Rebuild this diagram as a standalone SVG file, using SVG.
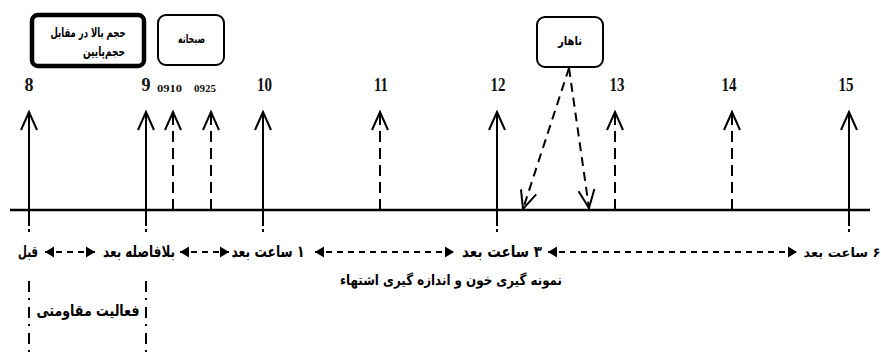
<svg xmlns="http://www.w3.org/2000/svg" width="881" height="358" viewBox="0 0 881 358">
  <defs>
    <style>
      .num { font-family: "Liberation Serif", "Times New Roman", serif; font-weight: bold; font-size: 18px; fill: #111; text-anchor: middle; }
      .small { font-size: 10px; }
      .ar { font-family: "DejaVu Sans", "Noto Sans", sans-serif; font-weight: bold; fill: #000; text-anchor: middle; direction: rtl; }
      .box { fill: #fff; stroke: #000; stroke-width: 2; }
      .thick { stroke-width: 4.5; }
      .tick { fill: none; stroke: #000; stroke-width: 2; marker-end: url(#chev); }
      .dash { stroke-dasharray: 11 6; }
      .lunch { fill: none; stroke: #000; stroke-width: 2; stroke-dasharray: 9 6; marker-end: url(#chev); }
      .dbl { fill: none; stroke: #000; stroke-width: 2; stroke-dasharray: 6 5; marker-start: url(#tri); marker-end: url(#tri); }
      .ext { fill: none; stroke: #000; stroke-width: 2; }
      .dashdot { fill: none; stroke: #000; stroke-width: 2; stroke-dasharray: 11 6 2 7; }
    </style>
    <!-- open chevron arrowhead -->
    <marker id="chev" markerUnits="userSpaceOnUse" orient="auto-start-reverse" overflow="visible" markerWidth="20" markerHeight="20" refX="0" refY="0">
      <path d="M-18,-8 L0,0 L-18,8" fill="none" stroke="#000" stroke-width="2" stroke-linejoin="miter"/>
    </marker>
    <!-- solid triangle head for the phase arrows -->
    <marker id="tri" markerUnits="userSpaceOnUse" orient="auto-start-reverse" overflow="visible" markerWidth="12" markerHeight="12" refX="0" refY="0">
      <path d="M-9,-5.5 L0,0 L-9,5.5 Z" fill="#000"/>
    </marker>
  </defs>

  <rect width="881" height="358" fill="#fff"/>

  <!-- top boxes -->
  <g id="box-volume">
    <rect class="box thick" x="32" y="15" width="112" height="51" rx="6"/>
    <text class="ar" x="88" y="37" font-size="13" textLength="75" lengthAdjust="spacingAndGlyphs">حجم بالا در مقابل</text>
    <text class="ar" x="104" y="56" font-size="13" textLength="42" lengthAdjust="spacingAndGlyphs">حجم‌پایین</text>
  </g>
  <g id="box-breakfast">
    <rect class="box" x="158" y="15" width="66" height="50" rx="8"/>
    <text class="ar" x="191.5" y="43" font-size="12" textLength="27" lengthAdjust="spacingAndGlyphs">صبحانه</text>
  </g>
  <g id="box-lunch">
    <rect class="box" x="537" y="17" width="66" height="50" rx="8"/>
    <text class="ar" x="570" y="45" font-size="12" textLength="24" lengthAdjust="spacingAndGlyphs">ناهار</text>
  </g>

  <!-- time axis -->
  <g id="axis">
    <line x1="10" y1="210" x2="870" y2="210" stroke="#000" stroke-width="2.5"/>
  </g>

  <!-- hour marks -->
  <g id="tick-8">
    <text class="num" x="29" y="91">8</text>
    <path class="tick" d="M29,226 V112"/>
    <line class="ext" x1="29" y1="229" x2="29" y2="232"/>
    <path class="dashdot" d="M29,281 V358"/>
  </g>
  <g id="tick-9">
    <text class="num" x="146" y="91">9</text>
    <path class="tick" d="M146,226 V112"/>
    <line class="ext" x1="146" y1="229" x2="146" y2="232"/>
    <path class="dashdot" d="M146,281 V358"/>
  </g>
  <g id="tick-0910">
    <text class="num small" x="169.5" y="92" textLength="25" lengthAdjust="spacingAndGlyphs">0910</text>
    <path class="tick dash" d="M173,210 V112"/>
  </g>
  <g id="tick-0925">
    <text class="num small" x="205" y="92" textLength="22" lengthAdjust="spacingAndGlyphs">0925</text>
    <path class="tick dash" d="M211,210 V112"/>
  </g>
  <g id="tick-10">
    <text class="num" x="264.5" y="91" textLength="15" lengthAdjust="spacingAndGlyphs">10</text>
    <path class="tick" d="M263,226 V112"/>
    <line class="ext" x1="263" y1="229" x2="263" y2="232"/>
  </g>
  <g id="tick-11">
    <text class="num" x="381" y="91" textLength="14" lengthAdjust="spacingAndGlyphs">11</text>
    <path class="tick dash" d="M380,210 V112"/>
  </g>
  <g id="tick-12">
    <text class="num" x="498" y="91" textLength="15" lengthAdjust="spacingAndGlyphs">12</text>
    <path class="tick" d="M497,226 V112"/>
    <line class="ext" x1="497" y1="229" x2="497" y2="232"/>
  </g>
  <g id="tick-13">
    <text class="num" x="617" y="91" textLength="15" lengthAdjust="spacingAndGlyphs">13</text>
    <path class="tick dash" d="M615,210 V112"/>
  </g>
  <g id="tick-14">
    <text class="num" x="729" y="91" textLength="15" lengthAdjust="spacingAndGlyphs">14</text>
    <path class="tick dash" d="M732,210 V112"/>
  </g>
  <g id="tick-15">
    <text class="num" x="846" y="91" textLength="15" lengthAdjust="spacingAndGlyphs">15</text>
    <path class="tick" d="M849,226 V112"/>
    <line class="ext" x1="849" y1="229" x2="849" y2="232"/>
  </g>

  <!-- lunch connectors -->
  <g id="connectors">
    <path class="lunch" d="M569,68 L523,209"/>
    <path class="lunch" d="M569,68 L589,208"/>
  </g>

  <!-- sampling phases -->
  <g id="phases">
    <text class="ar" x="28" y="257" font-size="16" textLength="20" lengthAdjust="spacingAndGlyphs">قبل</text>
    <path class="dbl" d="M45,252 H95"/>
    <text class="ar" x="139" y="257" font-size="16" textLength="72" lengthAdjust="spacingAndGlyphs">بلافاصله بعد</text>
    <path class="dbl" d="M180,252 H229"/>
    <text class="ar" x="268" y="257" font-size="16" textLength="73" lengthAdjust="spacingAndGlyphs">۱ ساعت بعد</text>
    <path class="dbl" d="M315,252 H454"/>
    <text class="ar" x="502" y="257" font-size="16" textLength="80" lengthAdjust="spacingAndGlyphs">۳ ساعت بعد</text>
    <path class="dbl" d="M548,252 H797"/>
    <text class="ar" x="842" y="257" font-size="13">۶ ساعت بعد</text>
    <text class="ar" x="451" y="285" font-size="14" textLength="222" lengthAdjust="spacingAndGlyphs">نمونه گیری خون و اندازه گیری اشتهاء</text>
  </g>

  <!-- resistance exercise window -->
  <g id="exercise">
    <text class="ar" x="88" y="316" font-size="16" textLength="103" lengthAdjust="spacingAndGlyphs">فعالیت مقاومتی</text>
  </g>
</svg>
